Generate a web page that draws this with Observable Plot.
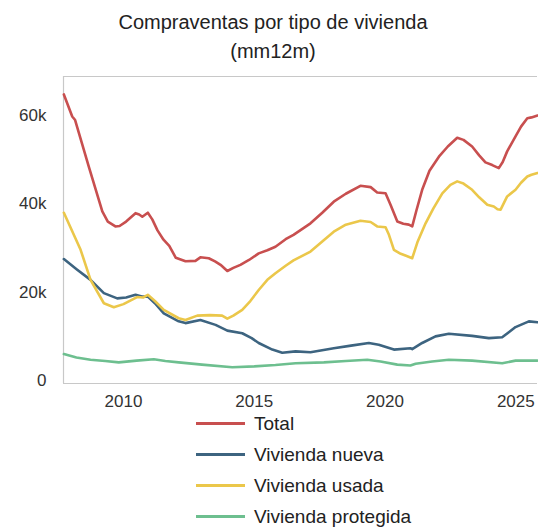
<!DOCTYPE html>
<html><head><meta charset="utf-8">
<script src="https://cdn.jsdelivr.net/npm/d3@7"></script>
<script src="https://cdn.jsdelivr.net/npm/@observablehq/plot@0.6"></script>
<style>
body{margin:0;background:#fff;font-family:"Liberation Sans",Arial,sans-serif;width:538px;overflow:hidden}
#title{height:70px;box-sizing:border-box;padding:8px 0 0 8px;text-align:center;font-size:20px;line-height:28.5px;color:#222}
#legend{margin-top:-6px}
.row{display:flex;align-items:center;height:31px}
.sw{margin-left:196px;width:49px;height:3px}
.lab{margin-left:9px;font-size:19px;color:#222}
</style></head>
<body>
<div id="title">Compraventas por tipo de vivienda<br>(mm12m)</div>
<div id="chart"></div>
<div id="legend"></div>
<script>
const seriesNames = ["Total", "Vivienda nueva", "Vivienda usada", "Vivienda protegida"];
const seriesColors = ["#c84f4f", "#3d6480", "#ebc74a", "#6dbf8f"];
const xTicks = [2010, 2015, 2020, 2025];
const yTicks = [0, 20000, 40000, 60000];
const xDomain = [2007.706, 2025.83];
const yDomain = [-680, 68860];

const totalYears = [2007.72,2008.04,2008.15,2008.67,2009.19,2009.4,2009.69,2009.85,2010.1,2010.46,2010.6,2010.72,2010.93,2011.1,2011.3,2011.53,2011.75,2012.0,2012.37,2012.75,2012.94,2013.26,2013.5,2013.71,2013.97,2014.2,2014.47,2014.8,2015.17,2015.5,2015.81,2016.2,2016.5,2017.15,2017.6,2018.04,2018.5,2019.06,2019.45,2019.7,2020.02,2020.21,2020.47,2020.7,2020.91,2021.04,2021.2,2021.42,2021.7,2022.06,2022.4,2022.76,2023.0,2023.33,2023.6,2023.84,2024.1,2024.35,2024.5,2024.67,2024.99,2025.2,2025.44,2025.6,2025.83];
const totalValues = [64800,59800,59000,48500,38300,36000,34900,35000,36000,37900,37600,37100,38000,36500,34000,31900,30500,27800,27000,27100,27900,27700,27000,26200,24800,25500,26200,27300,28800,29500,30300,32000,33000,35600,38000,40500,42300,44100,43800,42600,42400,39800,36000,35500,35300,34900,38500,43200,47500,50700,53000,55000,54500,53000,51000,49400,48800,48100,49500,51900,55300,57500,59400,59600,60000];

const nuevaYears = [2007.72,2008.23,2008.74,2009.25,2009.76,2010.1,2010.46,2010.7,2010.93,2011.2,2011.54,2012.11,2012.37,2012.94,2013.52,2013.97,2014.54,2014.9,2015.17,2015.69,2016.07,2016.58,2017.15,2018.04,2018.7,2019.38,2019.76,2020.34,2020.97,2021.04,2021.42,2021.93,2022.44,2023.33,2023.97,2024.48,2024.99,2025.5,2025.83];
const nuevaValues = [27500,25100,22800,19800,18600,18800,19400,19000,19000,17500,15200,13400,13000,13700,12600,11300,10700,9600,8500,7000,6300,6600,6400,7300,7900,8500,8100,7000,7300,7100,8500,10000,10600,10100,9600,9800,12100,13400,13200];

const usadaYears = [2007.72,2008.36,2008.74,2009.25,2009.63,2010.0,2010.52,2010.75,2010.93,2011.2,2011.54,2012.11,2012.37,2012.82,2013.3,2013.77,2013.97,2014.2,2014.54,2014.85,2015.17,2015.5,2015.81,2016.2,2016.5,2017.15,2017.6,2018.04,2018.5,2019.06,2019.45,2019.7,2020.02,2020.15,2020.34,2020.6,2020.78,2021.04,2021.25,2021.55,2021.85,2022.19,2022.5,2022.76,2023.0,2023.33,2023.6,2023.91,2024.16,2024.3,2024.42,2024.67,2024.99,2025.2,2025.44,2025.6,2025.83];
const usadaValues = [38000,29600,22800,17500,16600,17300,18900,18800,19400,18000,16000,14100,13700,14700,14800,14700,14000,14700,16000,18000,20500,22800,24300,26000,27200,29200,31500,33700,35300,36200,35900,34900,34700,33000,29600,28700,28300,27700,31500,35600,39000,42400,44300,45100,44600,43200,41500,39800,39400,38800,38700,41700,43200,44800,46200,46600,47000];

const protegidaYears = [2007.72,2008.2,2008.74,2009.3,2009.82,2010.5,2011.16,2011.6,2012.11,2013.0,2014.16,2015.0,2015.81,2016.58,2017.66,2018.5,2019.32,2019.83,2020.47,2020.97,2021.17,2021.8,2022.44,2023.33,2024.48,2024.99,2025.83];
const protegidaValues = [6000,5200,4700,4400,4100,4500,4800,4400,4100,3600,3000,3200,3500,3900,4100,4400,4700,4300,3600,3400,3800,4300,4700,4500,3900,4500,4500];

const seriesYears = [totalYears, nuevaYears, usadaYears, protegidaYears];
const seriesValues = [totalValues, nuevaValues, usadaValues, protegidaValues];

const font = '"Liberation Sans", Arial, sans-serif';
const lineMarks = seriesNames.map((name, k) =>
  Plot.line(seriesYears[k].map((x, i) => ({x, y: seriesValues[k][i]})),
    {x: "x", y: "y", stroke: seriesColors[k], strokeWidth: 2.6, strokeLinejoin: "round"}));

const chart = Plot.plot({
  width: 538, height: 344,
  marginTop: 6, marginLeft: 63, marginRight: 1, marginBottom: 31,
  style: {fontFamily: font, fontSize: "17px", color: "#333", background: "white"},
  x: {domain: xDomain, ticks: xTicks, tickFormat: d => String(d), tickSize: 0, tickPadding: 11, label: null},
  y: {domain: yDomain, ticks: yTicks, tickFormat: d => d === 0 ? "0" : (d / 1000) + "k", tickSize: 0, tickPadding: 17, label: null},
  marks: [
    Plot.ruleX([xDomain[0]], {stroke: "#c8c8c8", strokeWidth: 1.2}),
    Plot.ruleY([yDomain[0], yDomain[1]], {stroke: "#c8c8c8", strokeWidth: 1.2}),
    ...lineMarks
  ]
});
document.getElementById("chart").appendChild(chart);

const legend = document.getElementById("legend");
seriesNames.forEach((name, k) => {
  const row = document.createElement("div");
  row.className = "row";
  const sw = document.createElement("div");
  sw.className = "sw";
  sw.style.background = seriesColors[k];
  const lab = document.createElement("span");
  lab.className = "lab";
  lab.textContent = name;
  row.appendChild(sw);
  row.appendChild(lab);
  legend.appendChild(row);
});
</script>
</body></html>
